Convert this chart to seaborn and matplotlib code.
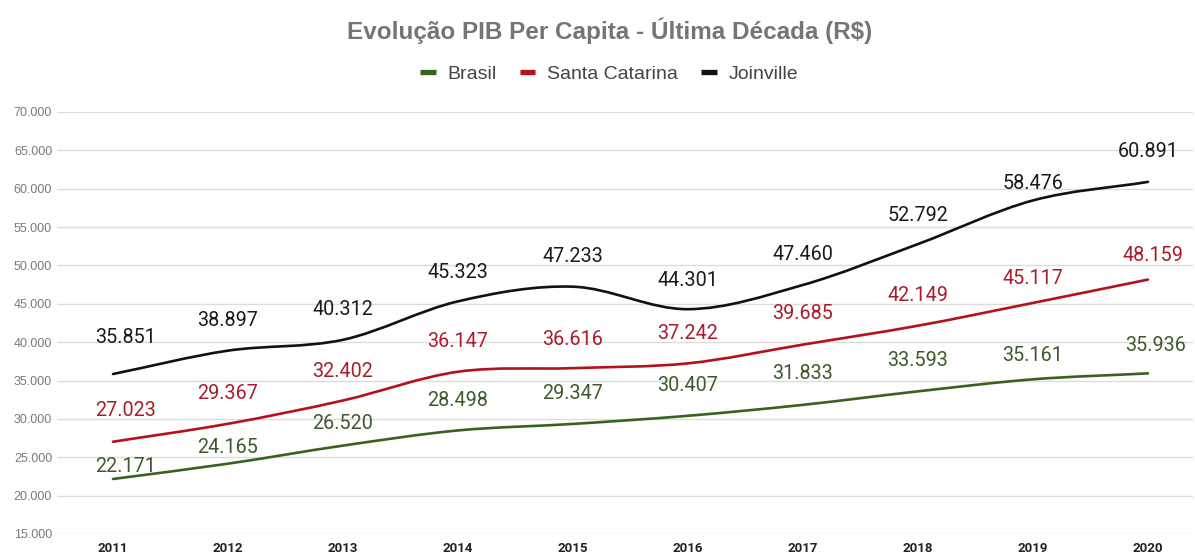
import numpy as np
import pandas as pd
import matplotlib
matplotlib.use('Agg')
import matplotlib.pyplot as plt
import seaborn as sns
from matplotlib.path import Path
from matplotlib.patches import PathPatch
from matplotlib.lines import Line2D
from matplotlib.ticker import FuncFormatter

years = [2011, 2012, 2013, 2014, 2015, 2016, 2017, 2018, 2019, 2020]
brasil = [22171, 24165, 26520, 28498, 29347, 30407, 31833, 33593, 35161, 35936]
santa_catarina = [27023, 29367, 32402, 36147, 36616, 37242, 39685, 42149, 45117, 48159]
joinville = [35851, 38897, 40312, 45323, 47233, 44301, 47460, 52792, 58476, 60891]
series_names = ['Brasil', 'Santa Catarina', 'Joinville']

# label offsets in pixels (vertical distance of label centre above the point)
label_dy = {
    'Brasil': [14, 18, 24, 32, 32, 32, 33, 33, 26, 30],
    'Santa Catarina': [33, 32, 31, 32, 31, 32, 33, 32, 26, 26],
    'Joinville': [39, 32, 32, 31, 32, 31, 32, 31, 19, 32],
}
label_dx = {
    'Brasil': [13, 0, 0, 0, 0, 0, 0, 0, 0, 8],
    'Santa Catarina': [13, 0, 0, 0, 0, 0, 0, 0, 0, 5],
    'Joinville': [13, 0, 0, 0, 0, 0, 0, 0, 0, 0],
}
colors = {'Brasil': '#38631f', 'Santa Catarina': '#b3121d', 'Joinville': '#111111'}
text_colors = {'Brasil': '#3c5a2c', 'Santa Catarina': '#a81c2b', 'Joinville': '#1a1a1a'}

df = pd.DataFrame({
    'ano': years * 3,
    'valor': brasil + santa_catarina + joinville,
    'serie': [s for s in series_names for _ in years],
})

sns.set_theme(style='white')
plt.rcParams['font.family'] = ['Roboto', 'DejaVu Sans']
arial_like = ['Liberation Sans', 'DejaVu Sans']

fig = plt.figure(figsize=(11.95, 5.56), dpi=100)
ax = fig.add_axes([57 / 1195, 22 / 556, 1136 / 1195, 422 / 556])

sns.lineplot(data=df, x='ano', y='valor', hue='serie', palette=colors,
             hue_order=series_names, legend=False, ax=ax, sort=False)


def smooth_path(x, y):
    # cubic bezier through the points (catmull-rom style tangents)
    x = np.asarray(x, float)
    y = np.asarray(y, float)
    n = len(x)
    verts = [(x[0], y[0])]
    codes = [Path.MOVETO]
    for i in range(n - 1):
        i0 = max(i - 1, 0)
        i3 = min(i + 2, n - 1)
        t1 = ((x[i + 1] - x[i0]) / (i + 1 - i0), (y[i + 1] - y[i0]) / (i + 1 - i0))
        t2 = ((x[i3] - x[i]) / (i3 - i), (y[i3] - y[i]) / (i3 - i))
        verts += [(x[i] + t1[0] / 3, y[i] + t1[1] / 3),
                  (x[i + 1] - t2[0] / 3, y[i + 1] - t2[1] / 3),
                  (x[i + 1], y[i + 1])]
        codes += [Path.CURVE4] * 3
    return Path(verts, codes)


for line, name in zip(list(ax.lines), series_names):
    xd, yd = line.get_xdata(), line.get_ydata()
    line.set_visible(False)
    ax.add_patch(PathPatch(smooth_path(xd, yd), facecolor='none',
                           edgecolor=colors[name], lw=1.9, capstyle='round'))
    for i, (xv, yv) in enumerate(zip(xd, yd)):
        ax.annotate(f'{int(yv):,}'.replace(',', '.'), (xv, yv),
                    xytext=(label_dx[name][i], label_dy[name][i]),
                    textcoords='offset pixels', ha='center', va='center_baseline',
                    fontsize=14.2, color=text_colors[name])

ax.set_xlim(2011 - 56 / 115, 2011 + 1080 / 115)
ax.set_ylim(15000, 70000)
ax.set_yticks(range(15000, 70001, 5000))
ax.yaxis.set_major_formatter(FuncFormatter(lambda v, p: f'{int(v):,}'.replace(',', '.')))
ax.set_xticks(years)
ax.set_xticklabels([str(y) for y in years], fontweight='bold', fontsize=9.5, color='#222222')
ax.tick_params(axis='x', length=0, pad=5.5)
ax.tick_params(axis='y', length=0, pad=3.5, labelsize=9, labelcolor='#7a7a7a')
for lab in ax.get_yticklabels():
    lab.set_family(arial_like)
ax.grid(axis='y', color='#dcdcdc', lw=1)
ax.grid(axis='x', visible=False)
for sp in ax.spines.values():
    sp.set_visible(False)
ax.set_xlabel('')
ax.set_ylabel('')

fig.text(610 / 1195, 1 - 28 / 556, 'Evolução PIB Per Capita - Última Década (R$)',
         ha='center', va='center_baseline', fontsize=17.5, color='#757575',
         fontweight='bold', family=arial_like)

handles = [Line2D([], [], color=colors[n], lw=3.8, solid_capstyle='butt') for n in series_names]
fig.legend(handles, series_names, loc='center', bbox_to_anchor=(609 / 1195, 1 - 74 / 556),
           ncol=3, frameon=False, handlelength=0.8, handletextpad=0.6, columnspacing=1.2,
           prop={'family': arial_like, 'size': 14},
           labelcolor='#444444')

fig.savefig('out.png', dpi=100)
